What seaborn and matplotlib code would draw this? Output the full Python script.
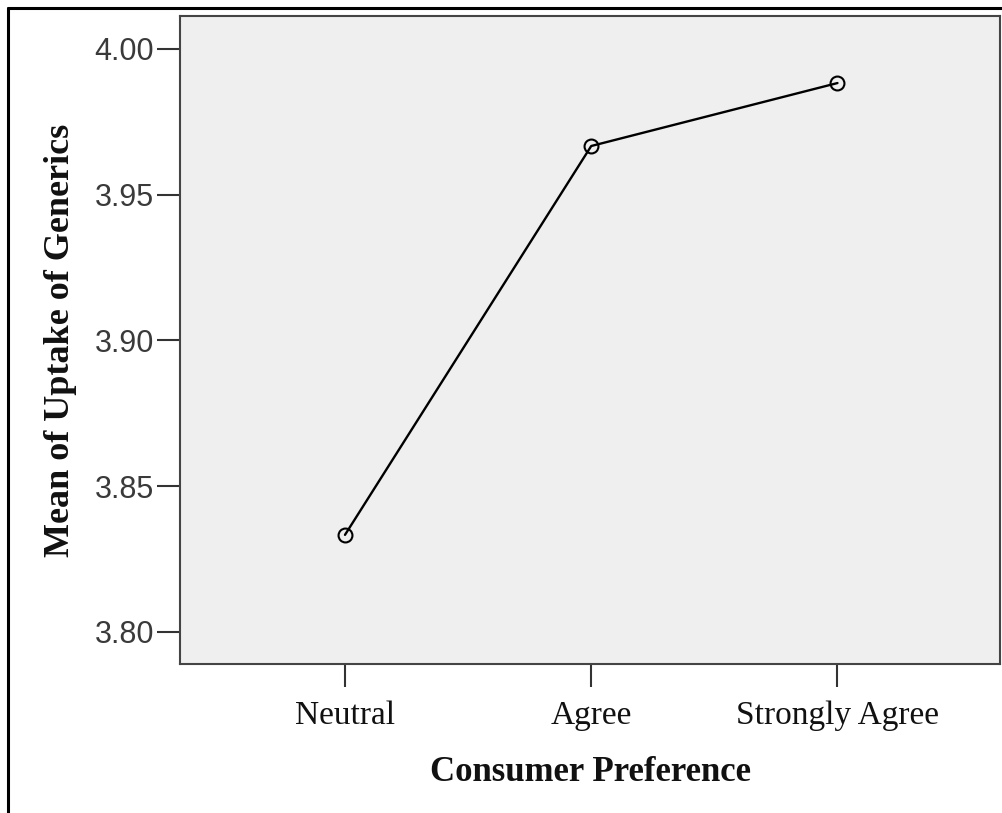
import matplotlib
matplotlib.use("Agg")
import matplotlib.pyplot as plt
import pandas as pd
import seaborn as sns
from matplotlib.lines import Line2D

preferenze = ["Neutral", "Agree", "Strongly Agree"]
medie = [3.8333, 3.9667, 3.9883]
y_ticks = [3.80, 3.85, 3.90, 3.95, 4.00]

df = pd.DataFrame({"Consumer Preference": preferenze, "Mean": medie})

sns.set_style("white")

fig = plt.figure(figsize=(10.02, 8.13), dpi=100)
ax = fig.add_axes([180 / 1002, 1 - 664 / 813, 820 / 1002, 648 / 813])
ax.set_facecolor("#efefef")

sns.lineplot(data=df, x="Consumer Preference", y="Mean", ax=ax, color="black",
             linewidth=1.7, marker="o", markersize=10, markerfacecolor="none",
             markeredgecolor="black", markeredgewidth=1.5)

ax.set_xlim(-0.67, 2.66)
ax.set_ylim(3.789, 4.0113)
ax.set_yticks(y_ticks)
ax.set_yticklabels([f"{v:.2f}" for v in y_ticks], fontsize=22,
                   family="Liberation Sans", color="#3a3a3a")
ax.set_xticks(range(len(preferenze)))
ax.set_xticklabels(preferenze, fontsize=24, family="Liberation Serif",
                   color="#111111")

ax.tick_params(axis="both", direction="out", length=16.5, width=1.5,
               color="#333333", left=True, bottom=True, pad=2)
ax.tick_params(axis="x", pad=10)

for s in ax.spines.values():
    s.set_color("#444444")
    s.set_linewidth(1.5)

ax.set_xlabel("Consumer Preference", fontsize=25, fontweight="bold",
              family="Liberation Serif", labelpad=18, color="#111111")
ax.set_ylabel("Mean of Uptake of Generics", fontsize=26, fontweight="bold",
              family="Liberation Serif", labelpad=13, color="#111111")

# outer frame (top and left border of the screenshot)
fig.add_artist(Line2D([8 / 1002, 8 / 1002], [0, 1 - 8 / 813], color="black",
                      linewidth=2.2, transform=fig.transFigure))
fig.add_artist(Line2D([8 / 1002, 1], [1 - 8 / 813, 1 - 8 / 813], color="black",
                      linewidth=2.2, transform=fig.transFigure))

fig.savefig("out.png", dpi=100)
